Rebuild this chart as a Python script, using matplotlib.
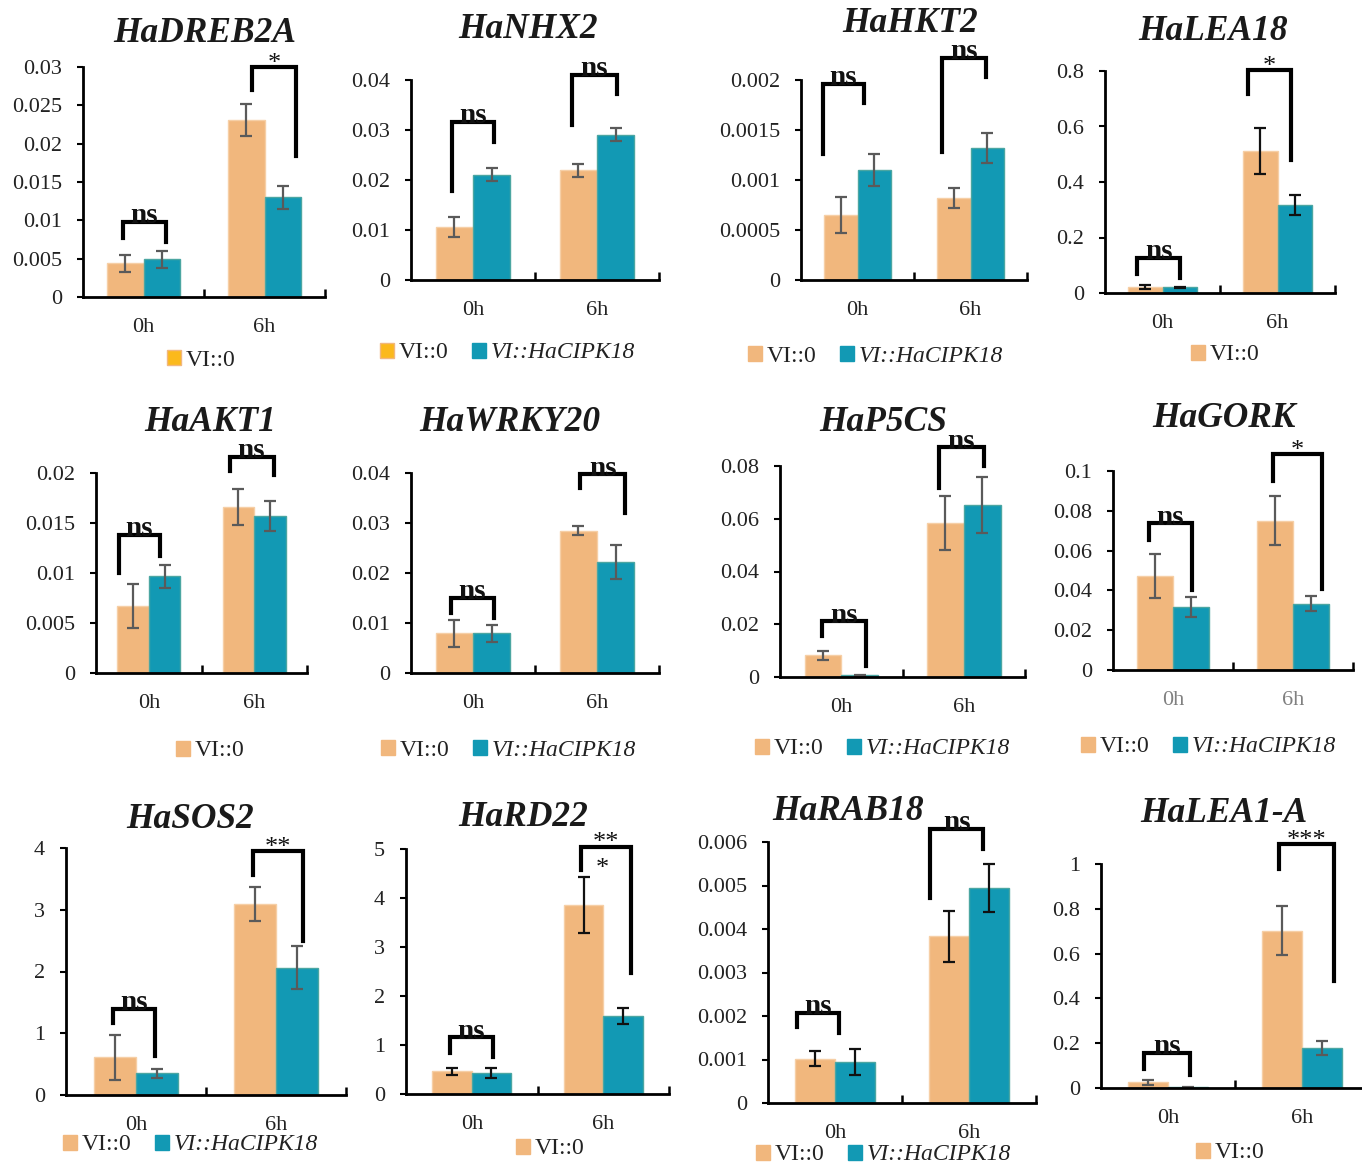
import numpy as np
import matplotlib
matplotlib.use('Agg')
import matplotlib.pyplot as plt
from matplotlib.patches import Patch
from matplotlib.ticker import FuncFormatter

plt.rcParams['font.family'] = ['Liberation Serif', 'DejaVu Serif']

# data: relative expression, mean and error per time point (0h, 6h)
genes = ['HaDREB2A', 'HaNHX2', 'HaHKT2', 'HaLEA18',
         'HaAKT1', 'HaWRKY20', 'HaP5CS', 'HaGORK',
         'HaSOS2', 'HaRD22', 'HaRAB18', 'HaLEA1-A']
times = ['0h', '6h']

vi0 = [[0.0044, 0.0231], [0.0107, 0.0220], [0.00065, 0.00082], [0.022, 0.511],
       [0.0067, 0.0166], [0.0080, 0.0285], [0.0082, 0.0583], [0.0474, 0.0750],
       [0.61, 3.10], [0.46, 3.85], [0.00102, 0.00383], [0.025, 0.702]]
vi0_sd = [[0.0011, 0.0021], [0.0020, 0.0013], [0.00018, 0.0001], [0.006, 0.082],
          [0.0022, 0.0018], [0.0027, 0.0009], [0.0016, 0.0103], [0.011, 0.0124],
          [0.36, 0.275], [0.08, 0.57], [0.00018, 0.00058], [0.01, 0.11]]
cipk = [[0.0049, 0.0130], [0.0211, 0.0291], [0.0011, 0.00132], [0.020, 0.317],
        [0.0097, 0.0157], [0.0080, 0.0222], [0.0006, 0.0652], [0.0318, 0.0332],
        [0.351, 2.06], [0.435, 1.59], [0.000945, 0.00494], [0.004, 0.179]]
cipk_sd = [[0.0011, 0.0015], [0.0013, 0.0013], [0.00016, 0.00015], [0.003, 0.035],
           [0.00115, 0.0015], [0.0017, 0.0034], [0.0002, 0.0106], [0.005, 0.0038],
           [0.075, 0.35], [0.1, 0.155], [0.0003, 0.00055], [0.002, 0.03]]

y_max = [0.03, 0.04, 0.002, 0.8, 0.02, 0.04, 0.08, 0.1, 4, 5, 0.006, 1]
y_step = [0.005, 0.01, 0.0005, 0.2, 0.005, 0.01, 0.02, 0.02, 1, 1, 0.001, 0.2]

# significance brackets: (x left, x right, y left leg, y top, y right leg, label)
br_0h = [(-0.169, 0.186, 0.0077, 0.0098, 0.0072, 'ns'),
         (-0.172, 0.169, 0.0178, 0.0317, 0.0277, 'ns'),
         (-0.308, 0.058, 0.00126, 0.00196, 0.00177, 'ns'),
         (-0.219, 0.152, 0.069, 0.126, 0.054, 'ns'),
         (-0.286, 0.109, 0.0100, 0.0138, 0.0117, 'ns'),
         (-0.178, 0.169, 0.0121, 0.0150, 0.0110, 'ns'),
         (-0.155, 0.200, 0.0156, 0.0211, 0.0043, 'ns'),
         (-0.198, 0.157, 0.0653, 0.0737, 0.0402, 'ns'),
         (-0.164, 0.138, 1.16, 1.40, 0.63, 'ns'),
         (-0.166, 0.159, 0.845, 1.16, 0.763, 'ns'),
         (-0.284, 0.030, 0.00174, 0.00208, 0.00162, 'ns'),
         (-0.179, 0.164, 0.085, 0.156, 0.059, 'ns')]
br_6h = [(0.897, 1.260, 0.027, 0.030, 0.0184, '*'),
         (0.798, 1.159, 0.031, 0.041, 0.0373, 'ns'),
         (0.745, 1.134, 0.00128, 0.00222, 0.00203, 'ns'),
         (0.741, 1.115, 0.716, 0.802, 0.479, '*'),
         (0.766, 1.183, 0.0202, 0.0216, 0.0198, 'ns'),
         (0.861, 1.229, 0.037, 0.0397, 0.032, 'ns'),
         (0.798, 1.165, 0.0716, 0.0871, 0.080, 'ns'),
         (0.835, 1.242, 0.0951, 0.1084, 0.0407, '*'),
         (0.833, 1.190, 3.56, 3.95, 2.49, '**'),
         (0.829, 1.214, 4.58, 5.05, 2.47, '**'),
         (0.712, 1.104, 0.00471, 0.0063, 0.00583, 'ns'),
         (0.831, 1.241, 0.978, 1.089, 0.476, '***')]

# layout in pixels: axes (left, right, top, bottom), title centre, legend left/centre y
boxes = [(83, 325, 67, 297), (411, 659, 80, 280), (801, 1027, 80, 280), (1105, 1335, 71, 293),
         (96, 307, 473, 673), (411, 659, 473, 673), (780, 1025, 466, 677), (1113, 1353, 471, 670),
         (66, 346, 848, 1095), (406, 669, 849, 1094), (768, 1036, 842, 1103), (1101, 1369, 864, 1088)]
title_xy = [(205, 33), (528, 30), (910, 24), (1213, 31),
            (210, 422), (510, 423), (883, 423), (1224, 418),
            (190, 820), (523, 817), (848, 812), (1224, 813)]
legend_xy = [(167, 360), (380, 353), (748, 356), (1191, 355),
             (176, 751), (381, 750), (755, 749), (1081, 747),
             (63, 1145), (516, 1149), (756, 1155), (1196, 1153)]
legend_two = [False, True, True, False, False, True, True, True, True, False, True, False]
dark_err = [False, False, False, True, False, False, False, False, False, True, True, False]

W, H = 1362, 1165
ORANGE = '#F1B77D'
TEAL = '#1299B4'
YELLOW = '#FBB91C'
bw = 0.30

fig = plt.figure(figsize=(W / 100, H / 100), dpi=100)

for i, g in enumerate(genes):
    l, r, t, b = boxes[i]
    ax = fig.add_axes([l / W, 1 - b / H, (r - l) / W, (b - t) / H])
    x = np.arange(len(times))
    ec = '#111111' if dark_err[i] else '#5a5a5a'
    ekw = dict(ecolor=ec, elinewidth=1.6, capthick=1.6)
    ax.bar(x - bw / 2, vi0[i], bw, color=ORANGE, edgecolor='#F6CFA6', linewidth=1,
           yerr=vi0_sd[i], capsize=4, error_kw=ekw, zorder=2)
    ax.bar(x + bw / 2, cipk[i], bw, color=TEAL, edgecolor='#4BA6A2', linewidth=1,
           yerr=cipk_sd[i], capsize=4, error_kw=ekw, zorder=2)

    ax.set_xlim(-0.5, 1.5)
    ax.set_ylim(0, y_max[i])
    ax.set_yticks(np.arange(0, y_max[i] + y_step[i] / 2, y_step[i]))
    ax.yaxis.set_major_formatter(FuncFormatter(lambda v, p: f'{v:g}'))
    ax.set_xticks(x)
    ax.set_xticklabels(times)
    ax.set_xticks([0.5, 1.5], minor=True)
    ax.tick_params(axis='x', which='major', length=0, pad=15, labelsize=16,
                   labelcolor='#808080' if g == 'HaGORK' else '#222222')
    ax.tick_params(axis='x', which='minor', direction='in', length=6, width=1.8)
    ax.tick_params(axis='y', direction='out', length=4, width=1.5, labelsize=16,
                   labelcolor='#222222', pad=11)
    for s in ['top', 'right']:
        ax.spines[s].set_visible(False)
    for s in ['left', 'bottom']:
        ax.spines[s].set_linewidth(2)
        ax.spines[s].set_color('black')
    ax.patch.set_alpha(0)

    for x0, x1, yl, yt, yr, lab in (br_0h[i], br_6h[i]):
        ax.plot([x0, x0, x1, x1], [yl, yt, yt, yr], color='black', lw=3,
                solid_joinstyle='miter', clip_on=False, zorder=4)
        if lab == 'ns':
            ax.annotate(lab, ((x0 + x1) / 2, yt), xytext=(0, -1), textcoords='offset points',
                        ha='center', va='baseline', fontsize=21, fontweight='bold',
                        color='#111111', zorder=5, annotation_clip=False)
        else:
            ax.annotate(lab, ((x0 + x1) / 2, yt), xytext=(0, -2), textcoords='offset points',
                        ha='center', va='baseline', fontsize=19, color='#111111', zorder=5,
                        annotation_clip=False)
    if g == 'HaRD22':
        ax.text(0.994, 4.59, '*', ha='center', va='center', fontsize=19, color='#111111')

    tx, ty = title_xy[i]
    fig.text(tx / W, 1 - ty / H, g, ha='center', va='center', fontsize=25.5,
             fontweight='bold', fontstyle='italic', color='#1a1a1a')

    lx, ly = legend_xy[i]
    first = YELLOW if i < 2 else ORANGE
    handles = [Patch(facecolor=first, edgecolor=ORANGE, linewidth=1, label='VI::0')]
    if legend_two[i]:
        handles.append(Patch(facecolor=TEAL, edgecolor=TEAL, label='VI::HaCIPK18'))
    leg = fig.legend(handles=handles, loc='center left', bbox_to_anchor=(lx / W, 1 - ly / H),
                     ncol=2, frameon=False, fontsize=17, handlelength=0.6, handleheight=0.6,
                     handletextpad=0.2, columnspacing=1.0, borderpad=0, borderaxespad=0)
    for k, txt in enumerate(leg.get_texts()):
        txt.set_color('#222222')
        if k == 1:
            txt.set_fontstyle('italic')

fig.savefig('out.png', dpi=100)
